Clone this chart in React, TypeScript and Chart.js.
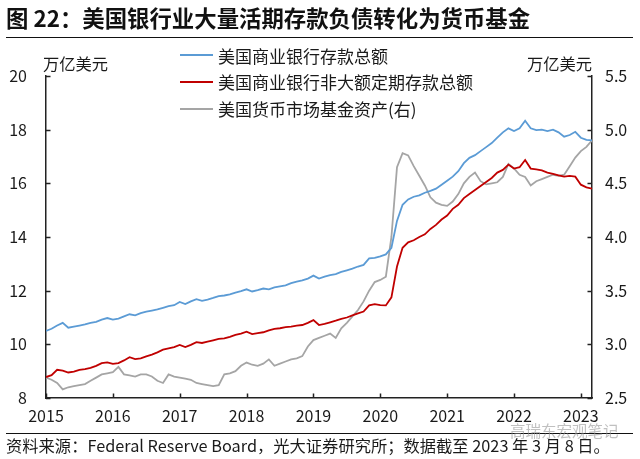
import React, { useEffect, useRef } from "react";
import { Chart, registerables } from "chart.js";

Chart.register(...registerables);

const FONT = '"Noto Sans CJK SC", "Noto Sans", sans-serif';

const TITLE = "图 22：美国银行业大量活期存款负债转化为货币基金";
const SOURCE = "资料来源：Federal Reserve Board，光大证券研究所；数据截至 2023 年 3 月 8 日。";
const WATERMARK = "高瑞东宏观笔记";
const UNIT_LEFT = "万亿美元";
const UNIT_RIGHT = "万亿美元";

const START_YEAR = 2015;
const END_YEAR = 2023;
const END_MONTH = 3;

// month labels 2015-01 ... 2023-03
const MONTHS: string[] = [];
for (let y = START_YEAR; y <= END_YEAR; y++) {
  for (let m = 1; m <= 12; m++) {
    if (y === END_YEAR && m > END_MONTH) break;
    MONTHS.push(`${y}-${String(m).padStart(2, "0")}`);
  }
}

// 美国商业银行存款总额 (万亿美元, 左轴)
const totalDeposits = [
  10.5, 10.58, 10.7, 10.8, 10.62, 10.66, 10.7, 10.74, 10.8, 10.84, 10.92, 10.98,
  10.92, 10.96, 11.04, 11.12, 11.08, 11.16, 11.22, 11.26, 11.3, 11.36, 11.42, 11.46,
  11.58, 11.5, 11.6, 11.68, 11.62, 11.67, 11.73, 11.8, 11.82, 11.86, 11.93, 11.98,
  12.05, 11.97, 12.02, 12.08, 12.05, 12.12, 12.16, 12.2, 12.28, 12.34, 12.38, 12.45,
  12.56, 12.45, 12.52, 12.58, 12.62, 12.7, 12.76, 12.82, 12.9, 12.96, 13.2, 13.22,
  13.28, 13.35, 13.6, 14.6, 15.2, 15.4, 15.5, 15.55, 15.65, 15.72, 15.8, 15.95,
  16.1, 16.25, 16.45, 16.75, 16.95, 17.05, 17.2, 17.35, 17.5, 17.7, 17.9, 18.05,
  17.95, 18.05, 18.33, 18.05, 17.98, 18.0, 17.95, 18.0, 17.9, 17.74, 17.8, 17.92,
  17.7, 17.62, 17.6,
];

// 美国商业银行非大额定期存款总额 (万亿美元, 左轴)
const smallTimeDeposits = [
  8.78, 8.85, 9.05, 9.02, 8.95, 8.98, 9.05, 9.08, 9.12, 9.2, 9.3, 9.33,
  9.27, 9.3, 9.4, 9.52, 9.45, 9.48, 9.55, 9.62, 9.7, 9.8, 9.85, 9.9,
  9.98, 9.9, 9.98, 10.08, 10.05, 10.1, 10.15, 10.2, 10.22, 10.28, 10.35, 10.4,
  10.47, 10.38, 10.42, 10.45, 10.52, 10.58, 10.6, 10.64, 10.66, 10.7, 10.72, 10.8,
  10.9, 10.72, 10.76, 10.82, 10.88, 10.95, 11.0, 11.08, 11.15, 11.22, 11.45, 11.5,
  11.46, 11.45, 11.75, 12.9, 13.6, 13.8, 13.88, 14.0, 14.1, 14.3, 14.45, 14.65,
  14.8, 15.05, 15.2, 15.45, 15.6, 15.75, 15.9, 16.05, 16.2, 16.4, 16.5, 16.7,
  16.55, 16.6, 16.87, 16.55, 16.52, 16.48, 16.4, 16.35, 16.3, 16.25, 16.28, 16.25,
  15.95, 15.85, 15.8,
];

// 美国货币市场基金资产 (万亿美元, 右轴)
const mmfAssets = [
  2.69, 2.67, 2.64, 2.58, 2.6, 2.61, 2.62, 2.63, 2.66, 2.69, 2.72, 2.73,
  2.74, 2.79, 2.72, 2.71, 2.7, 2.72, 2.72, 2.7, 2.66, 2.64, 2.72, 2.7,
  2.69, 2.68, 2.67, 2.64, 2.63, 2.62, 2.61, 2.62, 2.72, 2.73, 2.75, 2.8,
  2.83, 2.81, 2.8, 2.82, 2.86, 2.8, 2.82, 2.84, 2.86, 2.87, 2.89, 2.98,
  3.04, 3.06, 3.08, 3.1, 3.06, 3.15, 3.2, 3.26, 3.32, 3.4, 3.5, 3.58,
  3.6, 3.63, 4.0, 4.65, 4.78, 4.76, 4.66, 4.57, 4.48, 4.37, 4.32, 4.3,
  4.29, 4.33, 4.4, 4.5, 4.56, 4.6, 4.52, 4.49, 4.5, 4.51, 4.56, 4.68,
  4.64, 4.58, 4.56, 4.48, 4.52, 4.54, 4.56, 4.58, 4.57, 4.58, 4.66, 4.74,
  4.8, 4.84, 4.9,
];

const LEFT_TICKS = { min: 8, max: 20, step: 2 };
const RIGHT_TICKS = { min: 2.5, max: 5.5, step: 0.5 };

const SERIES = [
  { label: "美国商业银行存款总额", data: totalDeposits, color: "#5B9BD5", axis: "y" },
  { label: "美国商业银行非大额定期存款总额", data: smallTimeDeposits, color: "#C00000", axis: "y" },
  { label: "美国货币市场基金资产(右)", data: mmfAssets, color: "#A5A5A5", axis: "y1" },
];

const monthToX = (s: string) => {
  const [y, m] = s.split("-").map(Number);
  return y + (m - 1) / 12;
};

const TEXT = "#1a1a1a";
const AXIS = "#222";
const TICK_LEN = 4.5;

// Inward-pointing tick marks drawn from each scale's own ticks
const inwardTicks = {
  id: "inwardTicks",
  afterDraw(chart: any) {
    const { ctx, chartArea, scales } = chart;
    ctx.save();
    ctx.strokeStyle = AXIS;
    ctx.lineWidth = 1.5;
    ctx.beginPath();
    const x = scales.x;
    x.ticks.forEach((t: any) => {
      const px = Math.round(x.getPixelForValue(t.value)) + 0.5;
      ctx.moveTo(px, chartArea.bottom);
      ctx.lineTo(px, chartArea.bottom - TICK_LEN);
    });
    const y = scales.y;
    y.ticks.forEach((t: any) => {
      const py = Math.round(y.getPixelForValue(t.value)) + 0.5;
      ctx.moveTo(chartArea.left, py);
      ctx.lineTo(chartArea.left + TICK_LEN, py);
    });
    const y1 = scales.y1;
    y1.ticks.forEach((t: any) => {
      const py = Math.round(y1.getPixelForValue(t.value)) + 0.5;
      ctx.moveTo(chartArea.right, py);
      ctx.lineTo(chartArea.right - TICK_LEN, py);
    });
    ctx.stroke();
    ctx.restore();
  },
};

export default function App() {
  const ref = useRef<HTMLCanvasElement | null>(null);

  useEffect(() => {
    if (!ref.current) return;
    const tickFont = { family: FONT, size: 16 };
    const chart = new Chart(ref.current, {
      type: "line",
      data: {
        datasets: SERIES.map((s) => ({
          label: s.label,
          data: s.data.map((v, i) => ({ x: monthToX(MONTHS[i]), y: v })),
          borderColor: s.color,
          backgroundColor: s.color,
          borderWidth: 1.8,
          pointRadius: 0,
          tension: 0,
          yAxisID: s.axis,
        })),
      },
      options: {
        animation: false,
        responsive: false,
        devicePixelRatio: 1,
        layout: { padding: { top: 76, bottom: 31, left: 0, right: 0 } },
        plugins: { legend: { display: false }, tooltip: { enabled: false }, title: { display: false } },
        scales: {
          x: {
            type: "linear",
            position: "bottom",
            min: START_YEAR,
            max: monthToX(MONTHS[MONTHS.length - 1]),
            ticks: {
              stepSize: 1,
              includeBounds: false,
              autoSkip: false,
              maxRotation: 0,
              padding: 8,
              color: TEXT,
              font: tickFont,
              callback: (v: any) => String(v),
            },
            grid: { display: false, drawTicks: false },
            border: { display: true, color: AXIS, width: 1.5 },
            afterFit: (s: any) => {
              s.height = 30;
            },
          },
          y: {
            position: "left",
            min: LEFT_TICKS.min,
            max: LEFT_TICKS.max,
            ticks: { stepSize: LEFT_TICKS.step, padding: 19, color: TEXT, font: tickFont },
            grid: { display: false, drawTicks: false },
            border: { display: true, color: AXIS, width: 1.5 },
            afterFit: (s: any) => {
              s.width = 46;
            },
          },
          y1: {
            position: "right",
            min: RIGHT_TICKS.min,
            max: RIGHT_TICKS.max,
            ticks: {
              stepSize: RIGHT_TICKS.step,
              padding: 13,
              color: TEXT,
              font: tickFont,
              callback: (v: any) => Number(v).toFixed(1),
            },
            grid: { display: false, drawTicks: false },
            border: { display: true, color: AXIS, width: 1.5 },
            afterFit: (s: any) => {
              s.width = 48;
            },
          },
        },
      } as any,
      plugins: [inwardTicks],
    });
    return () => chart.destroy();
  }, []);

  const abs = (style: React.CSSProperties): React.CSSProperties => ({ position: "absolute", ...style });

  return (
    <div
      style={{
        position: "absolute",
        left: 0,
        top: 0,
        width: 640,
        height: 459,
        background: "#fff",
        fontFamily: FONT,
        color: TEXT,
        overflow: "hidden",
      }}
    >
      <canvas ref={ref} width={640} height={459} style={abs({ left: 0, top: 0, width: 640, height: 459 })} />
      <div style={abs({ left: 6, top: 5.5, fontSize: 22.4, lineHeight: "22px", fontWeight: 700, whiteSpace: "nowrap", color: "#111" })}>
        {TITLE}
      </div>
      <div style={abs({ left: 6, top: 36.5, width: 627, height: 1.5, background: "#111" })} />
      <div style={abs({ left: 43, top: 54.5, fontSize: 16.3, lineHeight: "17px", whiteSpace: "nowrap" })}>{UNIT_LEFT}</div>
      <div style={abs({ left: 527, top: 54.5, fontSize: 16.3, lineHeight: "17px", whiteSpace: "nowrap" })}>{UNIT_RIGHT}</div>
      {SERIES.map((s, i) => (
        <React.Fragment key={s.label}>
          <div style={abs({ left: 180, top: 54.3 + i * 26.65, width: 33, height: 2, background: s.color })} />
          <div style={abs({ left: 218, top: 46.5 + i * 26.65, fontSize: 17, lineHeight: "17px", whiteSpace: "nowrap" })}>
            {s.label}
          </div>
        </React.Fragment>
      ))}
      <div style={abs({ left: 6, top: 432.5, width: 627, height: 1.5, background: "#111" })} />
      <div style={abs({ left: 6, top: 436.5, fontSize: 16.3, lineHeight: "17px", whiteSpace: "nowrap" })}>{SOURCE}</div>
      <div
        style={abs({
          left: 510,
          top: 421.5,
          fontSize: 15.5,
          lineHeight: "16px",
          whiteSpace: "nowrap",
          color: "rgba(150,150,150,0.6)",
        })}
      >
        {WATERMARK}
      </div>
    </div>
  );
}
